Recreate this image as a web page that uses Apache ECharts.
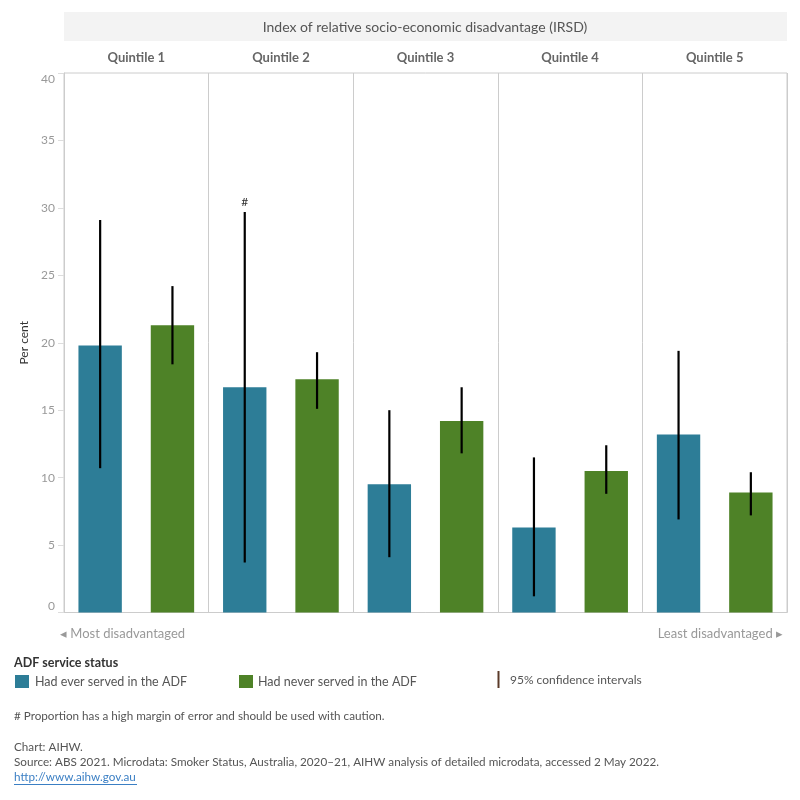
<!DOCTYPE html>
<html>
<head>
<meta charset="utf-8">
<script src="https://cdn.jsdelivr.net/npm/echarts@6/dist/echarts.min.js"></script>
<style>
html,body{margin:0;padding:0;background:#fff;}
#chart{width:800px;height:800px;}
</style>
</head>
<body>
<div id="chart"></div>
<script>
// ---- data ----
var quintiles = ['Quintile 1', 'Quintile 2', 'Quintile 3', 'Quintile 4', 'Quintile 5'];
var seriesNames = ['Had ever served in the ADF', 'Had never served in the ADF'];
var everServed = [19.8, 16.7, 9.5, 6.3, 13.2];
var everLow    = [10.7, 3.7, 4.1, 1.2, 6.9];
var everHigh   = [29.1, 29.7, 15.0, 11.5, 19.4];
var everNotes  = ['', '#', '', '', ''];
var neverServed = [21.3, 17.3, 14.2, 10.5, 8.9];
var neverLow    = [18.4, 15.1, 11.8, 8.8, 7.2];
var neverHigh   = [24.2, 19.3, 16.7, 12.4, 10.4];
var yTicks = [0, 5, 10, 15, 20, 25, 30, 35, 40];

var blue = '#2d7d97';
var green = '#4e8227';
var FONT = 'Lato';

function ciData(low, high, notes) {
  return quintiles.map(function (q, i) {
    return [i, low[i], high[i], notes ? notes[i] : ''];
  });
}

function makeCI(side) {
  return function (params, api) {
    var idx = api.value(0);
    var lo = api.coord([idx, api.value(1)]);
    var hi = api.coord([idx, api.value(2)]);
    var band = api.size([1, 0])[0];
    var x = lo[0] + side * band / 4;
    var children = [{
      type: 'line',
      shape: { x1: x, y1: lo[1], x2: x, y2: hi[1] },
      style: { stroke: '#000', lineWidth: 2.2 }
    }];
    var note = api.value(3);
    if (note && note !== '0' && note !== '') {
      children.push({
        type: 'text',
        x: x, y: hi[1] - 4,
        style: { text: String(note), fill: '#333', font: '12px ' + FONT, align: 'center', verticalAlign: 'bottom' }
      });
    }
    return { type: 'group', children: children };
  };
}

var chart = echarts.init(document.getElementById('chart'), null, { renderer: 'canvas' });

var option = {
  animation: false,
  textStyle: { fontFamily: FONT },
  grid: {
    left: 64, right: 13, top: 73, bottom: 187.5,
    show: true, borderColor: '#cccccc', borderWidth: 1, backgroundColor: 'transparent'
  },
  xAxis: {
    type: 'category',
    data: quintiles,
    position: 'top',
    axisLine: { show: true, lineStyle: { color: '#cccccc' } },
    axisTick: { show: false },
    axisLabel: { color: '#666', fontSize: 13, fontWeight: 'bold', fontFamily: FONT, margin: 9 },
    splitLine: { show: true, lineStyle: { color: '#cccccc', width: 1 } }
  },
  yAxis: {
    type: 'value',
    min: 0, max: 40, interval: 5,
    name: 'Per cent',
    nameLocation: 'middle',
    nameGap: 29,
    nameTextStyle: { color: '#333', fontSize: 12, fontFamily: FONT },
    axisLine: { show: true, lineStyle: { color: '#cccccc' } },
    axisTick: { show: true, length: 6, lineStyle: { color: '#dddddd' } },
    axisLabel: {
      color: '#999', fontSize: 12, fontFamily: FONT, margin: 9,
      verticalAlignMaxLabel: 'top', verticalAlignMinLabel: 'bottom',
      formatter: function (v) { return yTicks.indexOf(v) >= 0 ? String(v) : ''; }
    },
    splitLine: { show: false }
  },
  series: [
    {
      name: seriesNames[0], type: 'bar', data: everServed,
      barWidth: '30%', barGap: '66.7%',
      itemStyle: { color: blue }
    },
    {
      name: seriesNames[1], type: 'bar', data: neverServed,
      barWidth: '30%', barGap: '66.7%',
      itemStyle: { color: green }
    },
    {
      type: 'custom', renderItem: makeCI(-1), data: ciData(everLow, everHigh, everNotes),
      encode: { x: 0, y: [1, 2] }, z: 10
    },
    {
      type: 'custom', renderItem: makeCI(1), data: ciData(neverLow, neverHigh, null),
      encode: { x: 0, y: [1, 2] }, z: 10
    }
  ],
  graphic: [
    { type: 'rect', shape: { x: 64, y: 12, width: 723, height: 29 }, style: { fill: '#f3f3f3' } },
    { type: 'text', x: 425, y: 27, style: { text: 'Index of relative socio-economic disadvantage (IRSD)', fill: '#555', font: '14px ' + FONT, align: 'center', verticalAlign: 'middle' } },
    { type: 'text', x: 60, y: 634, style: { text: '\u25C2 Most disadvantaged', fill: '#999', font: '13px ' + FONT, align: 'left', verticalAlign: 'middle' } },
    { type: 'text', x: 783, y: 634, style: { text: 'Least disadvantaged \u25B8', fill: '#999', font: '13px ' + FONT, align: 'right', verticalAlign: 'middle' } },
    { type: 'text', x: 14, y: 663, style: { text: 'ADF service status', fill: '#333', font: 'bold 12.5px ' + FONT, align: 'left', verticalAlign: 'middle' } },
    { type: 'rect', shape: { x: 15, y: 675, width: 14, height: 13 }, style: { fill: blue } },
    { type: 'text', x: 35, y: 682, style: { text: seriesNames[0], fill: '#555', font: '12.5px ' + FONT, align: 'left', verticalAlign: 'middle' } },
    { type: 'rect', shape: { x: 239, y: 675, width: 14, height: 13 }, style: { fill: green } },
    { type: 'text', x: 258, y: 682, style: { text: seriesNames[1], fill: '#555', font: '12.5px ' + FONT, align: 'left', verticalAlign: 'middle' } },
    { type: 'line', shape: { x1: 498.5, y1: 671, x2: 498.5, y2: 688 }, style: { stroke: '#5b3a29', lineWidth: 2 } },
    { type: 'text', x: 510, y: 680, style: { text: '95% confidence intervals', fill: '#555', font: '12px ' + FONT, align: 'left', verticalAlign: 'middle' } },
    { type: 'text', x: 14, y: 716, style: { text: '# Proportion has a high margin of error and should be used with caution.', fill: '#555', font: '11.7px ' + FONT, align: 'left', verticalAlign: 'middle' } },
    { type: 'text', x: 14, y: 747, style: { text: 'Chart: AIHW.', fill: '#555', font: '11.7px ' + FONT, align: 'left', verticalAlign: 'middle' } },
    { type: 'text', x: 14, y: 762, style: { text: 'Source: ABS 2021. Microdata: Smoker Status, Australia, 2020\u201321, AIHW analysis of detailed microdata, accessed 2 May 2022.', fill: '#555', font: '11.7px ' + FONT, align: 'left', verticalAlign: 'middle' } },
    { type: 'text', x: 14, y: 777, style: { text: 'http://www.aihw.gov.au', fill: '#3b7fc4', font: '11.7px ' + FONT, align: 'left', verticalAlign: 'middle' } },
    { type: 'line', shape: { x1: 14, y1: 784.5, x2: 137, y2: 784.5 }, style: { stroke: '#3b7fc4', lineWidth: 1 } }
  ]
};

chart.setOption(option);
</script>
</body>
</html>
